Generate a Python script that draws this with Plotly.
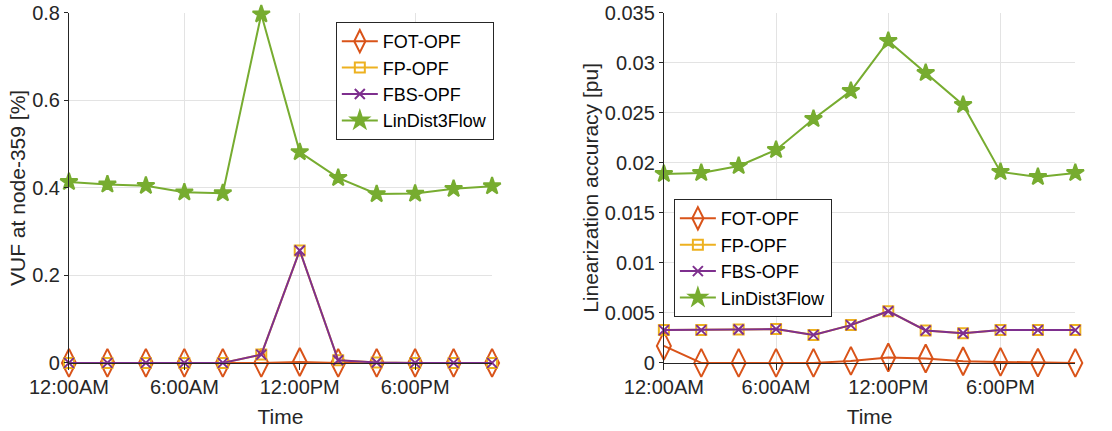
import plotly.graph_objects as go

hours = [0, 2, 4, 6, 8, 10, 12, 14, 16, 18, 20, 22]
tick_hours = [0, 6, 12, 18]
tick_labels = ["12:00AM", "6:00AM", "12:00PM", "6:00PM"]

# Left panel: VUF at node-359 [%]
vuf_fot = [0.0, 0.0, 0.0, 0.0, 0.0, 0.0, 0.002, 0.0, 0.0, 0.0, 0.0, 0.0]
vuf_fp = [0.0, 0.0, 0.0, 0.0, 0.0, 0.019, 0.257, 0.006, 0.001, 0.0, 0.0, 0.0]
vuf_fbs = [0.0, 0.0, 0.0, 0.0, 0.0, 0.019, 0.257, 0.006, 0.001, 0.0, 0.0, 0.0]
vuf_lin = [0.4137, 0.408, 0.405, 0.390, 0.388, 0.797, 0.482, 0.423, 0.386, 0.387, 0.398, 0.404]

# Right panel: Linearization accuracy [pu]
acc_fot = [0.0017, 0.0, 0.0, 0.0, 0.0, 0.0002, 0.00054, 0.00044, 0.00017, 0.0001, 0.00003, 0.0]
acc_fp = [0.00328, 0.00328, 0.00334, 0.00338, 0.0028, 0.00378, 0.00517, 0.00324, 0.00297, 0.00328, 0.00328, 0.00328]
acc_fbs = [0.00328, 0.00328, 0.00334, 0.00338, 0.0028, 0.00378, 0.00517, 0.00324, 0.00297, 0.00328, 0.00328, 0.00328]
acc_lin = [0.0189, 0.0190, 0.0197, 0.0213, 0.0244, 0.0272, 0.0322, 0.0290, 0.0258, 0.0191, 0.0186, 0.0190]

names = ["FOT-OPF", "FP-OPF", "FBS-OPF", "LinDist3Flow"]
colors = ["#D95319", "#EDB120", "#7E2F8E", "#77AC30"]
symbols = ["diamond-tall-open", "square-open", "x-thin-open", "star"]
sizes = [20, 10, 10, 13]

FONT = "Liberation Sans, Arial, sans-serif"
TXT = "#262626"

fig = go.Figure()

left_series = [vuf_fot, vuf_fp, vuf_fbs, vuf_lin]
right_series = [acc_fot, acc_fp, acc_fbs, acc_lin]

for i in range(4):
    mk = dict(symbol=symbols[i], size=sizes[i], color=colors[i],
              line=dict(color=colors[i], width=2))
    fig.add_trace(go.Scatter(x=hours, y=left_series[i], name=names[i], mode="lines+markers",
                             line=dict(color=colors[i], width=2), marker=mk, cliponaxis=False,
                             xaxis="x", yaxis="y", legend="legend"))
for i in range(4):
    mk = dict(symbol=symbols[i], size=sizes[i], color=colors[i],
              line=dict(color=colors[i], width=2))
    fig.add_trace(go.Scatter(x=hours, y=right_series[i], name=names[i], mode="lines+markers",
                             line=dict(color=colors[i], width=2), marker=mk, cliponaxis=False,
                             xaxis="x2", yaxis="y2", legend="legend2"))

axis_common = dict(showline=True, linecolor=TXT, linewidth=1, showgrid=True,
                   gridcolor="#e3e3e3", gridwidth=1, zeroline=False, automargin=False,
                   tickfont=dict(family=FONT, size=20, color=TXT),
                   ticks="outside", ticklen=4, tickcolor=TXT)

xcommon = dict(axis_common, range=[0, 22], tickvals=tick_hours, ticktext=tick_labels, ticklen=6,
               title=dict(text="Time", font=dict(family=FONT, size=21, color=TXT), standoff=12))

fig.update_layout(
    width=1112, height=431,
    margin=dict(l=0, r=0, t=0, b=0),
    paper_bgcolor="white", plot_bgcolor="white",
    font=dict(family=FONT, color=TXT),
    xaxis=dict(xcommon, domain=[0.062, 0.4425], anchor="y"),
    yaxis=dict(axis_common, domain=[0.158, 0.970], range=[0, 0.8], dtick=0.2, anchor="x",
               title=dict(text="VUF at node-359 [%]", font=dict(family=FONT, size=21, color=TXT), standoff=0)),
    xaxis2=dict(xcommon, domain=[0.597, 0.967], anchor="y2"),
    yaxis2=dict(axis_common, domain=[0.158, 0.970], range=[0, 0.035], dtick=0.005, anchor="x2",
                title=dict(text="Linearization accuracy [pu]", font=dict(family=FONT, size=21, color=TXT), standoff=0)),
    legend=dict(x=0.302, y=0.949, xanchor="left", yanchor="top", bgcolor="white",
                bordercolor=TXT, borderwidth=1, font=dict(family=FONT, size=18, color="black"),
                tracegroupgap=0, itemwidth=36),
    legend2=dict(x=0.606, y=0.538, xanchor="left", yanchor="top", bgcolor="white",
                 bordercolor=TXT, borderwidth=1, font=dict(family=FONT, size=18, color="black"),
                 tracegroupgap=0, itemwidth=36),
)

fig.write_html("out.html")
